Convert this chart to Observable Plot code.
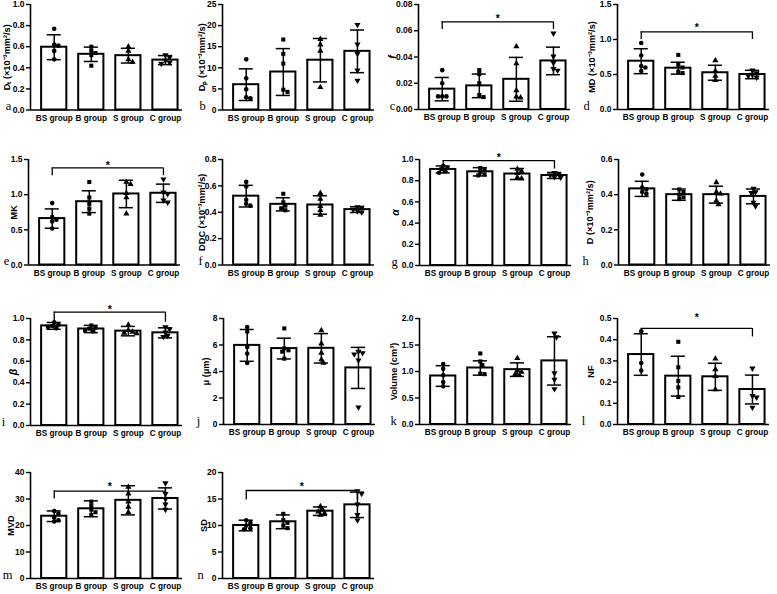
<!DOCTYPE html>
<html><head><meta charset="utf-8">
<script src="https://cdn.jsdelivr.net/npm/d3@7"></script>
<script src="https://cdn.jsdelivr.net/npm/@observablehq/plot@0.6"></script>
<style>
body{margin:0;background:#fff;}
#fig{position:relative;width:777px;height:594px;overflow:hidden;background:#fff;}
#fig svg{position:absolute;}
</style></head><body><div id="fig"></div>
<script>
const groups = ["BS group", "B group", "S group", "C group"];

// a  Dt
const dtMean = [0.595, 0.528, 0.515, 0.473];
const dtSD = [0.118, 0.068, 0.07, 0.043];
const dtPoints = [[0.77,0.62,0.61,0.56,0.48],[0.60,0.56,0.54,0.52,0.42],[0.60,0.56,0.48,0.455],[0.52,0.50,0.47,0.45,0.44]];
const dtTicks = [0,0.2,0.4,0.6,0.8,1.0];
// b  Dp
const dpMean = [6.0, 9.0, 11.8, 13.9];
const dpSD = [3.75, 5.55, 5.15, 5.05];
const dpPoints = [[12.0,7.5,4.9,3.0,2.8],[16.7,13.3,11.0,4.8,4.3],[16.8,15.5,14.0,5.4],[20.2,15.6,13.3,9.4,7.0]];
const dpTicks = [0,5,10,15,20,25];
// c  f
const fMean = [0.0155, 0.018, 0.023, 0.037];
const fSD = [0.0089, 0.009, 0.0167, 0.0105];
const fPoints = [[0.030,0.020,0.010,0.010,0.010],[0.030,0.027,0.020,0.011,0.0095],[0.048,0.035,0.0145,0.0098,0.009],[0.058,0.0405,0.0355,0.031,0.0297]];
const fTicks = [0,0.02,0.04,0.06,0.08];
// d  MD
const mdMean = [0.69, 0.59, 0.525, 0.50];
const mdSD = [0.178, 0.085, 0.107, 0.06];
const mdPoints = [[0.95,0.77,0.62,0.60,0.55],[0.78,0.64,0.60,0.54,0.52],[0.70,0.55,0.48,0.42],[0.56,0.52,0.50,0.48,0.46]];
const mdTicks = [0,0.5,1.0,1.5];
// e  MK
const mkMean = [0.66, 0.90, 1.01, 1.02];
const mkSD = [0.1375, 0.155, 0.195, 0.13];
const mkPoints = [[0.88,0.68,0.645,0.62,0.52],[1.18,0.96,0.87,0.80,0.73],[1.18,1.15,1.02,0.96,0.73],[1.22,1.035,1.01,0.92,0.89]];
const mkTicks = [0,0.5,1.0,1.5];
// f  DDC
const ddcMean = [0.522, 0.46, 0.455, 0.42];
const ddcSD = [0.082, 0.05, 0.07, 0.022];
const ddcPoints = [[0.63,0.595,0.495,0.465,0.45],[0.54,0.475,0.45,0.43,0.415],[0.545,0.50,0.445,0.415,0.38],[0.44,0.435,0.42,0.41,0.40]];
const ddcTicks = [0,0.2,0.4,0.6,0.8];
// g  alpha
const alphaMean = [0.906, 0.884, 0.863, 0.849];
const alphaSD = [0.033, 0.039, 0.052, 0.028];
const alphaPoints = [[0.94,0.92,0.91,0.89,0.875],[0.92,0.91,0.88,0.86,0.85],[0.91,0.89,0.87,0.83,0.82],[0.875,0.865,0.85,0.835,0.83]];
const alphaTicks = [0,0.2,0.4,0.6,0.8,1.0];
// h  D
const dMean = [0.433, 0.40, 0.40, 0.39];
const dSD = [0.043, 0.032, 0.048, 0.042];
const dPoints = [[0.515,0.44,0.43,0.415,0.405],[0.43,0.415,0.40,0.385,0.375],[0.47,0.415,0.405,0.365,0.345],[0.435,0.415,0.41,0.355,0.335]];
const dTicks = [0,0.2,0.4,0.6];
// i  beta
const betaMean = [0.931, 0.902, 0.882, 0.866];
const betaSD = [0.032, 0.034, 0.044, 0.047];
const betaPoints = [[0.965,0.94,0.93,0.92,0.91],[0.935,0.915,0.905,0.89,0.88],[0.94,0.89,0.875,0.865,0.86],[0.92,0.90,0.87,0.84,0.83]];
const betaTicks = [0,0.2,0.4,0.6,0.8,1.0];
// j  mu
const muMean = [5.97, 5.73, 5.75, 4.27];
const muSD = [1.2, 0.785, 1.11, 1.55];
const muPoints = [[7.35,7.0,5.85,5.35,4.65],[7.25,5.75,5.6,5.5,4.97],[7.1,6.1,5.4,4.9,4.65],[5.5,5.4,5.3,4.85,1.3]];
const muTicks = [0,2,4,6,8];
// k  Volume
const volMean = [0.915, 1.066, 1.035, 1.2];
const volSD = [0.195, 0.135, 0.128, 0.456];
const volPoints = [[1.14,1.05,0.93,0.80,0.72],[1.34,1.19,1.12,0.96,0.95],[1.25,1.02,0.99,0.95,0.93],[1.72,1.65,0.97,0.85,0.67]];
const volTicks = [0,0.5,1.0,1.5,2.0];
// l  NF
const nfMean = [0.33, 0.228, 0.225, 0.165];
const nfSD = [0.098, 0.094, 0.064, 0.068];
const nfPoints = [[0.44,0.29,0.255],[0.39,0.27,0.205,0.175,0.13],[0.31,0.26,0.228,0.165],[0.265,0.135,0.128,0.08]];
const nfTicks = [0,0.1,0.2,0.3,0.4,0.5];
// m  MVD
const mvdMean = [23.5, 26.3, 29.5, 30.2];
const mvdSD = [2.0, 3.0, 5.5, 4.0];
const mvdPoints = [[25.5,24.5,23,22,21.5],[29,27.5,26,25,24],[34.5,32,29,27,25],[36,32,30,28,26]];
const mvdTicks = [0,10,20,30,40];
// n  SD
const sdMean = [10.0, 10.7, 12.7, 13.9];
const sdSD = [1.0, 1.3, 0.8, 2.4];
const sdPoints = [[11,10.5,10,9.5,9.3],[12.2,11,10.5,10,9.5],[13.6,13,12.6,12.3,12],[16.5,16,14,12,11]];
const sdTicks = [0,5,10,15,20];

// significance brackets (value units): bar level, left tick end, right tick end, asterisk level
const bracketF = {y: 0.0668, l: 0.061, r: 0.061, star: 0.071};
const bracketMD = {y: 1.11, l: 1.0, r: 1.0, star: 1.21};
const bracketMK = {y: 1.38, l: 1.27, r: 1.27, star: 1.45};
const bracketAlpha = {y: 0.99, l: 0.945, r: 0.91, star: 1.045};
const bracketBeta = {y: 1.06, l: 0.975, r: 0.965, star: 1.11};
const bracketNF = {y: 0.453, l: 0.44, r: 0.413, star: 0.515};
const bracketMVD = {y: 33, l: 30, r: 30, star: 35.5};
const bracketSD = {y: 16.6, l: 14.8, r: 14.8, star: 17.8};

const SUP = "(×10⁻³mm²/s)";
const panels = [
  {letter:"a", label:"Dₜ "+SUP, mean:dtMean, sd:dtSD, points:dtPoints, ticks:dtTicks, dec:1, layout:{ax:30, ty:3.5, by:109, labelDx:23, letterDx:22}},
  {letter:"b", label:"Dₚ "+SUP, mean:dpMean, sd:dpSD, points:dpPoints, ticks:dpTicks, dec:0, layout:{ax:222, ty:3.5, by:109, labelDx:20, letterDx:20}},
  {letter:"c", label:"f", italic:true, mean:fMean, sd:fSD, points:fPoints, ticks:fTicks, dec:2, bracket:bracketF, layout:{ax:418, ty:3.5, by:108.5, labelDx:26, letterDx:26}},
  {letter:"d", label:"MD "+SUP, mean:mdMean, sd:mdSD, points:mdPoints, ticks:mdTicks, dec:1, bracket:bracketMD, layout:{ax:617, ty:3.5, by:108.5, labelDx:25, letterDx:31}},
  {letter:"e", label:"MK", mean:mkMean, sd:mkSD, points:mkPoints, ticks:mkTicks, dec:1, bracket:bracketMK, layout:{ax:28, ty:159, by:264.5, labelDx:14, letterDx:22}},
  {letter:"f", label:"DDC "+SUP, mean:ddcMean, sd:ddcSD, points:ddcPoints, ticks:ddcTicks, dec:1, layout:{ax:222, ty:159, by:264.5, labelDx:20, letterDx:22}},
  {letter:"g", label:"α", italic:true, mean:alphaMean, sd:alphaSD, points:alphaPoints, ticks:alphaTicks, dec:1, bracket:bracketAlpha, layout:{ax:419, ty:159, by:265, labelDx:24, letterDx:25}},
  {letter:"h", label:"D "+SUP, mean:dMean, sd:dSD, points:dPoints, ticks:dTicks, dec:1, layout:{ax:618, ty:159, by:264.5, labelDx:28, letterDx:33}},
  {letter:"i", label:"β", italic:true, mean:betaMean, sd:betaSD, points:betaPoints, ticks:betaTicks, dec:1, bracket:bracketBeta, layout:{ax:30, ty:318, by:425, labelDx:17, letterDx:27}},
  {letter:"j", label:"μ (μm)", mean:muMean, sd:muSD, points:muPoints, ticks:muTicks, dec:0, layout:{ax:223, ty:318, by:424, labelDx:17, letterDx:25}},
  {letter:"k", label:"Volume (cm³)", mean:volMean, sd:volSD, points:volPoints, ticks:volTicks, dec:1, layout:{ax:419, ty:318, by:424, labelDx:25, letterDx:26}},
  {letter:"l", label:"NF", mean:nfMean, sd:nfSD, points:nfPoints, ticks:nfTicks, dec:1, bracket:bracketNF, layout:{ax:617, ty:318, by:424, labelDx:26, letterDx:34}},
  {letter:"m", label:"MVD", mean:mvdMean, sd:mvdSD, points:mvdPoints, ticks:mvdTicks, dec:0, bracket:bracketMVD, layout:{ax:30, ty:472, by:578, labelDx:19, letterDx:23}},
  {letter:"n", label:"SD", mean:sdMean, sd:sdSD, points:sdPoints, ticks:sdTicks, dec:0, bracket:bracketSD, layout:{ax:222, ty:472, by:578, labelDx:18, letterDx:22}}
];

const xDomain = [-0.64, 3.46];
const innerW = 152;
const barHalf = 0.34, capHalf = 0.19, diam = 3.8;
const FONT = "'Liberation Sans', Arial, Helvetica, sans-serif";
const SERIF = "'Liberation Serif', 'Times New Roman', serif";

const triangleDown = {
  draw(context, size) {
    const y = -Math.sqrt(size / (3 * Math.sqrt(3)));
    context.moveTo(0, -2 * y);
    context.lineTo(-Math.sqrt(3) * y, y);
    context.lineTo(Math.sqrt(3) * y, y);
    context.closePath();
  }
};
const symbols = ["circle", "square", "triangle", triangleDown];

// deterministic beeswarm offsets (pixels) so overlapping points spread sideways
function swarm(values, pxY) {
  const order = values.map((v, i) => i).sort((a, b) => values[b] - values[a]);
  const placed = [], res = [];
  const cands = [0];
  for (let s = 1; s < 8; s++) cands.push(s * diam * 0.55, -s * diam * 0.55);
  for (const i of order) {
    const yp = values[i] * pxY;
    let off = cands[cands.length - 1];
    for (const c of cands) {
      if (placed.every(p => Math.hypot(p.x - c, p.y - yp) >= diam)) { off = c; break; }
    }
    placed.push({x: off, y: yp});
    res[i] = off;
  }
  return res;
}

const fig = document.getElementById("fig");
const ml = 42, mr = 8, mt = 12, mb = 22;

for (const P of panels) {
  const {ax, ty, by, labelDx, letterDx} = P.layout;
  const innerH = by - ty;
  const ymax = P.ticks[P.ticks.length - 1];
  const pxY = innerH / ymax, pxX = innerW / (xDomain[1] - xDomain[0]);
  const bars = groups.map((g, i) => ({i, mean: P.mean[i], sd: P.sd[i]}));
  const marks = [];
  marks.push(Plot.rectY(bars, {x1: d => d.i - barHalf, x2: d => d.i + barHalf, y1: () => 0, y2: "mean", fill: "white", stroke: "black", strokeWidth: 2}));
  marks.push(Plot.ruleX(bars, {x: "i", y1: d => d.mean - d.sd, y2: d => d.mean + d.sd, stroke: "black", strokeWidth: 1.5}));
  marks.push(Plot.ruleY(bars, {y: d => d.mean + d.sd, x1: d => d.i - capHalf, x2: d => d.i + capHalf, stroke: "black", strokeWidth: 1.5}));
  marks.push(Plot.ruleY(bars, {y: d => d.mean - d.sd, x1: d => d.i - capHalf, x2: d => d.i + capHalf, stroke: "black", strokeWidth: 1.5}));
  P.points.forEach((vals, i) => {
    const offs = swarm(vals, pxY);
    const pts = vals.map((v, j) => ({x: i + offs[j] / pxX, v}));
    marks.push(Plot.dot(pts, {x: "x", y: "v", symbol: symbols[i], r: 2.3, fill: "black", stroke: "none"}));
  });
  marks.push(Plot.ruleY([0], {stroke: "black", strokeWidth: 1.6}));
  marks.push(Plot.ruleX([xDomain[0]], {stroke: "black", strokeWidth: 1.6}));
  marks.push(Plot.axisY({ticks: P.ticks, tickFormat: d3.format(`.${P.dec}f`), tickSize: 4, tickPadding: 2, strokeWidth: 1.4, fontSize: 8.5, label: null}));
  marks.push(Plot.axisX({ticks: [0, 1, 2, 3], tickFormat: i => groups[i], tickSize: 0, tickPadding: 5, fontSize: 8.2, label: null}));
  marks.push(Plot.text([P.label], {frameAnchor: "left", text: d => d, rotate: -90, dx: -labelDx, textAnchor: "middle", fontSize: P.italic ? 10.5 : 9.2, fontStyle: P.italic ? "italic" : "normal"}));
  marks.push(Plot.text([P.letter], {frameAnchor: "bottom-left", text: d => d, dx: -letterDx, textAnchor: "middle", lineAnchor: "bottom", fontFamily: SERIF, fontWeight: "normal", fontSize: 12.5}));
  if (P.bracket) {
    const b = P.bracket;
    marks.push(Plot.ruleY([b], {y: "y", x1: () => 0, x2: () => 3, stroke: "black", strokeWidth: 1.3}));
    marks.push(Plot.ruleX([{x: 0, y1: b.y, y2: b.l}, {x: 3, y1: b.y, y2: b.r}], {x: "x", y1: "y1", y2: "y2", stroke: "black", strokeWidth: 1.3}));
    marks.push(Plot.text([b], {x: () => 1.5, y: "star", text: () => "*", fontSize: 10.5, dy: 2.5}));
  }
  const svg = Plot.plot({
    width: ml + innerW + mr, height: mt + innerH + mb,
    marginLeft: ml, marginRight: mr, marginTop: mt, marginBottom: mb,
    x: {domain: xDomain}, y: {domain: [0, ymax]},
    style: {fontFamily: FONT, fontWeight: "bold", fontSize: "8.5px", background: "transparent", overflow: "visible", color: "black"},
    marks
  });
  svg.style.position = "absolute";
  svg.style.left = (ax - ml) + "px";
  svg.style.top = (ty - mt) + "px";
  fig.appendChild(svg);
}
</script></body></html>
